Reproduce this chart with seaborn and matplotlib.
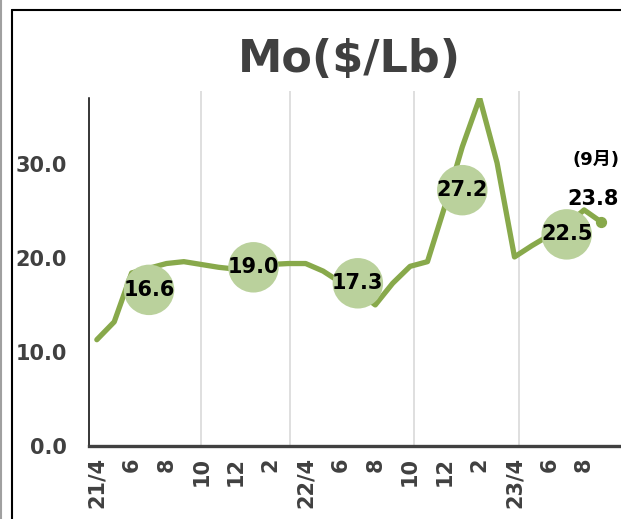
import numpy as np
import matplotlib.pyplot as plt
import seaborn as sns
from matplotlib.lines import Line2D

# === DATA (monthly Mo price, 21/4 .. 23/9) ===
mo_price = [11.3, 13.2, 18.4, 18.9, 19.4, 19.6, 19.3, 19.0, 18.8, 18.9,
            19.3, 19.4, 19.4, 18.6, 17.4, 16.4, 15.0, 17.3, 19.1, 19.6,
            25.5, 31.8, 37.0, 30.1, 20.1, 21.3, 22.4, 23.5, 25.1, 23.8]

# half-year averages, shown as circles at the 4th month of each half
half_idx = [3, 9, 15, 21, 27]
half_avg = [16.6, 19.0, 17.3, 27.2, 22.5]

tick_labels = ["21/4", "6", "8", "10", "12", "2",
               "22/4", "6", "8", "10", "12", "2",
               "23/4", "6", "8"]
y_ticks = [0, 10, 20, 30]

# vertical separators (month index)
sep_idx = [6.0, 11.1, 18.2, 24.25]

LINE = "#88A94B"
CIRCLE = "#BAD19C"
GRAY = "#404040"

# === STYLE ===
sns.set_style("white")
plt.rcParams['font.family'] = ['DejaVu Sans', 'Noto Sans CJK JP']
plt.rcParams['font.weight'] = 'bold'

fig = plt.figure(figsize=(6.21, 5.19), dpi=100)
ax = fig.add_axes([89 / 621, 73 / 519, 556 / 621, 348 / 519])

x = np.arange(len(mo_price))

# separators
ax.vlines(sep_idx, 0, 37.7, colors="#D9D9D9", lw=1.2, zorder=1, clip_on=False)

# monthly line
sns.lineplot(x=x, y=mo_price, color=LINE, lw=3.8, ax=ax, zorder=3)
ax.scatter(x[-1], mo_price[-1], s=50, color=LINE, zorder=4)

# half-year averages
sns.scatterplot(x=half_idx, y=half_avg, s=1320, color=CIRCLE,
                edgecolor="none", ax=ax, zorder=5, legend=False)
for xi, v in zip(half_idx, half_avg):
    ax.text(xi, v, f"{v:.1f}", ha="center", va="center", fontsize=15,
            fontweight="bold", color="black", zorder=6)

# latest value
ax.annotate(f"{mo_price[-1]:.1f}", (x[-1], mo_price[-1]), xytext=(-6, 17),
            textcoords="offset points", ha="center", va="center",
            fontsize=15, fontweight="bold", color="black", annotation_clip=False)
ax.annotate("(9月)", (x[-1], mo_price[-1]), xytext=(-4, 45),
            textcoords="offset points", ha="center", va="center",
            fontsize=13, fontweight="bold", color="black", annotation_clip=False)

# === AXES ===
ax.set_xlim(-0.45, 31.5)
ax.set_ylim(0, 37)
ax.set_yticks(y_ticks)
ax.set_yticklabels([f"{v:.1f}" for v in y_ticks])
ax.set_xticks(np.arange(0, 2 * len(tick_labels), 2))
ax.set_xticklabels(tick_labels, rotation=90)
ax.set_xticks(np.arange(0, 32), minor=True)

ax.tick_params(axis="y", direction="in", length=5, width=1.1, color="black",
               pad=16, labelsize=15, labelcolor=GRAY)
ax.tick_params(axis="x", which="both", direction="in", length=2.4, width=2.4,
               color=GRAY, pad=8, labelsize=15, labelcolor=GRAY)

sns.despine(ax=ax)
ax.spines["left"].set_color("black")
ax.spines["left"].set_linewidth(1.1)
ax.spines["bottom"].set_color(GRAY)
ax.spines["bottom"].set_linewidth(2.4)

# title
fig.text(349 / 621, 1 - 60 / 519, "Mo($/Lb)", ha="center", va="center",
         fontsize=32, fontweight="bold", color=GRAY)

# chart frame (cropped)
fig.add_artist(Line2D([12 / 621, 12 / 621], [0, 1 - 10 / 519],
                      transform=fig.transFigure, color="black", lw=1.5))
fig.add_artist(Line2D([12 / 621, 1], [1 - 10 / 519, 1 - 10 / 519],
                      transform=fig.transFigure, color="black", lw=1.5))
fig.add_artist(Line2D([1 / 621, 1 / 621], [0, 1],
                      transform=fig.transFigure, color="#A0A0A0", lw=1.5))

fig.savefig("out.png", dpi=100)
plt.close()
